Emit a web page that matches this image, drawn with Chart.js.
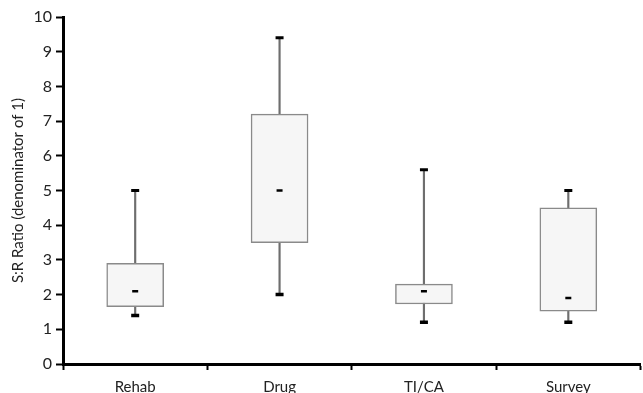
<!DOCTYPE html>
<html>
<head>
<meta charset="utf-8">
<script src="https://cdn.jsdelivr.net/npm/chart.js@4"></script>
<style>
  html, body { margin: 0; padding: 0; background: #fff; overflow: hidden; }
  #wrap { width: 643px; height: 393px; overflow: hidden; }
</style>
</head>
<body>
<div id="wrap"><canvas id="boxChart" width="648" height="393"></canvas></div>
<script>
// box plot values
const groups = ['Rehab', 'Drug', 'TI/CA', 'Survey'];
const minVals = [1.4, 2.0, 1.2, 1.2];
const q1Vals = [1.65, 3.5, 1.73, 1.52];
const medianVals = [2.1, 5.0, 2.1, 1.9];
const q3Vals = [2.9, 7.2, 2.3, 4.5];
const maxVals = [5.0, 9.4, 5.6, 5.0];

const fontFamily = 'Lato, "Open Sans", sans-serif';

let box_chart_element = document.querySelector('#boxChart').getContext('2d');

let box_chart = new Chart(box_chart_element, {
    type: 'bar',
    data: {
        labels: groups,
        datasets: [
            {
                // whiskers
                data: groups.map((g, i) => [minVals[i], maxVals[i]]),
                backgroundColor: '#6e6e6e',
                barThickness: 1.5,
                grouped: false,
                order: 3
            },
            {
                // boxes
                data: groups.map((g, i) => [q1Vals[i], q3Vals[i]]),
                backgroundColor: '#f6f6f6',
                borderColor: '#8a8a8a',
                borderWidth: 1.5,
                borderSkipped: false,
                barThickness: 57,
                grouped: false,
                order: 2
            },
            {
                type: 'line',
                data: maxVals,
                showLine: false,
                pointStyle: 'line',
                pointRadius: 4,
                pointBorderWidth: 3,
                pointBorderColor: '#000',
                order: 1
            },
            {
                type: 'line',
                data: minVals,
                showLine: false,
                pointStyle: 'line',
                pointRadius: 4,
                pointBorderWidth: 3.5,
                pointBorderColor: '#000',
                order: 1
            },
            {
                type: 'line',
                data: medianVals,
                showLine: false,
                pointStyle: 'line',
                pointRadius: 3,
                pointBorderWidth: 2.5,
                pointBorderColor: '#000',
                order: 1
            }
        ]
    },
    options: {
        responsive: false,
        animation: false,
        events: [],
        layout: {
            padding: { top: 17, right: 0, left: 9, bottom: 0 }
        },
        plugins: {
            legend: { display: false },
            tooltip: { enabled: false }
        },
        scales: {
            x: {
                offset: true,
                grid: {
                    offset: true,
                    drawOnChartArea: false,
                    tickLength: 6,
                    tickWidth: 2,
                    tickColor: '#000'
                },
                border: { color: '#000', width: 3 },
                ticks: {
                    color: '#222',
                    padding: 8,
                    font: { size: 15, family: fontFamily }
                },
                afterFit: (scale) => {
                    scale.height = 29;
                    scale.paddingLeft = 0;
                    scale.paddingRight = 0;
                }
            },
            y: {
                min: 0,
                max: 10,
                ticks: {
                    stepSize: 1,
                    color: '#222',
                    padding: 4,
                    font: { size: 16, family: fontFamily }
                },
                grid: {
                    drawOnChartArea: false,
                    tickLength: 7,
                    tickWidth: 2,
                    tickColor: '#000'
                },
                border: { color: '#000', width: 3 },
                title: {
                    display: true,
                    text: 'S:R Ratio (denominator of 1)',
                    color: '#222',
                    padding: { top: 0, bottom: 4 },
                    font: { size: 15, family: fontFamily }
                },
                afterFit: (scale) => { scale.width = 54; }
            }
        }
    }
});
</script>
</body>
</html>
